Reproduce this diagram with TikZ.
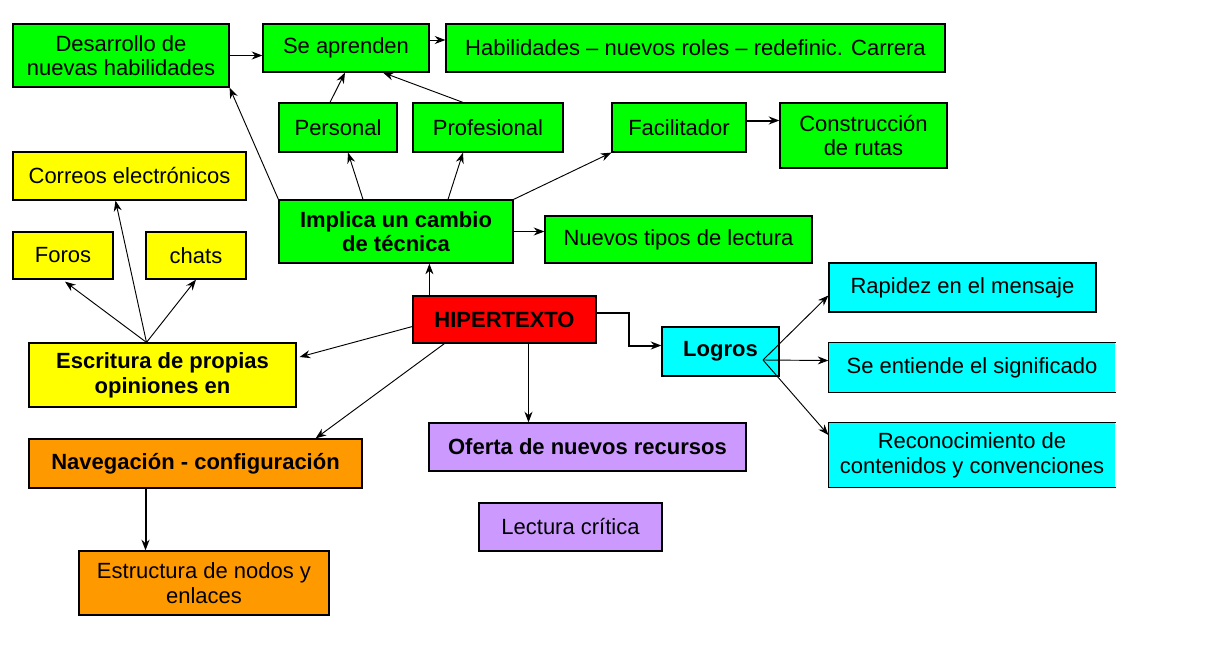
\documentclass[tikz,border=0pt]{standalone}
\usepackage{fontspec}
\setmainfont{Liberation Sans}
\usetikzlibrary{arrows.meta,calc}
\definecolor{verde}{HTML}{00FF00}
\definecolor{amarillo}{HTML}{FFFF00}
\definecolor{rojo}{HTML}{FF0000}
\definecolor{cian}{HTML}{00FFFF}
\definecolor{naranja}{HTML}{FF9900}
\definecolor{lila}{HTML}{CC99FF}
\begin{document}
\begin{tikzpicture}[x=0.75pt, y=-0.75pt, >={Stealth[length=8pt,width=6pt]},
  font=\fontsize{16.5}{18.5}\selectfont,
  caja/.style={draw, line width=0.9pt, inner sep=0pt, align=center},
  bf/.style={font=\fontsize{16.5}{18.5}\selectfont\bfseries},
  con/.style={->, line width=0.7pt},
  grueso/.style={->, line width=1.5pt}]
  \useasboundingbox (0,0) rectangle (1218,650);
  % Green boxes
  \node[caja, fill=verde, minimum width=216*0.75pt, minimum height=63*0.75pt] (desa) at (121,55.5) {Desarrollo de\\nuevas habilidades};
  \node[caja, fill=verde, minimum width=166*0.75pt, minimum height=48*0.75pt] (apre) at (346,48) {Se aprenden};
  \node[caja, fill=verde, minimum width=499*0.75pt, minimum height=48*0.75pt] (habi) at (695.5,48) {Habilidades -- nuevos roles -- redefinic. Carrera};
  \node[caja, fill=verde, minimum width=118*0.75pt, minimum height=49*0.75pt] (pers) at (338,127.5) {Personal};
  \node[caja, fill=verde, minimum width=150*0.75pt, minimum height=49*0.75pt] (prof) at (488,127.5) {Profesional};
  \node[caja, fill=verde, minimum width=134*0.75pt, minimum height=49*0.75pt] (faci) at (679,127.5) {Facilitador};
  \node[caja, fill=verde, minimum width=167*0.75pt, minimum height=65*0.75pt] (cons) at (863.5,135.5) {Construcción\\de rutas};
  \node[caja, bf, fill=verde, minimum width=234*0.75pt, minimum height=63*0.75pt] (impl) at (396,231.5) {Implica un cambio\\de técnica};
  \node[caja, fill=verde, minimum width=267*0.75pt, minimum height=47*0.75pt] (nuev) at (678.5,239.5) {Nuevos tipos de lectura};
  % Yellow boxes
  \node[caja, fill=amarillo, minimum width=233*0.75pt, minimum height=48*0.75pt] (corr) at (129.5,176) {Correos electrónicos};
  \node[caja, fill=amarillo, minimum width=100*0.75pt, minimum height=47*0.75pt] (foro) at (63,255.5) {Foros};
  \node[caja, fill=amarillo, minimum width=100*0.75pt, minimum height=47*0.75pt] (chat) at (196,255.5) {chats};
  \node[caja, bf, fill=amarillo, minimum width=267*0.75pt, minimum height=64*0.75pt] (escr) at (162.5,375) {Escritura de propias\\opiniones en};
  % Centre
  \node[caja, bf, fill=rojo, minimum width=183*0.75pt, minimum height=47*0.75pt] (hipe) at (504.5,319.5) {HIPERTEXTO};
  % Cyan boxes
  \node[caja, bf, fill=cian, minimum width=117*0.75pt, minimum height=49*0.75pt] (logr) at (720.5,351.5) {Logros};
  \node[caja, fill=cian, minimum width=267*0.75pt, minimum height=49*0.75pt] (rapi) at (962.5,287.5) {Rapidez en el mensaje};
  \node[caja, draw=none, fill=cian, minimum width=286*0.75pt, minimum height=49*0.75pt] (sent) at (972,367.5) {Se entiende el significado};
  \node[caja, draw=none, fill=cian, minimum width=286*0.75pt, minimum height=64*0.75pt] (reco) at (972,455) {Reconocimiento de\\contenidos y convenciones};
  \draw[line width=0.9pt] (sent.north east) -- (sent.north west) -- (sent.south west) -- (sent.south east);
  \draw[line width=0.9pt] (reco.north east) -- (reco.north west) -- (reco.south west) -- (reco.south east);
  % Orange and lilac boxes
  \node[caja, bf, fill=naranja, minimum width=333*0.75pt, minimum height=49*0.75pt] (nave) at (195.5,463.5) {Navegación - configuración};
  \node[caja, fill=naranja, minimum width=250*0.75pt, minimum height=64*0.75pt] (estr) at (204,583) {Estructura de nodos y\\enlaces};
  \node[caja, bf, fill=lila, minimum width=317*0.75pt, minimum height=48*0.75pt] (ofer) at (587.5,447) {Oferta de nuevos recursos};
  \node[caja, fill=lila, minimum width=183*0.75pt, minimum height=48*0.75pt] (lect) at (570.5,527) {Lectura crítica};
  % Helper points on the borders
  \coordinate (apre-e) at ($(apre.east)+(0,-8)$);
  \coordinate (faci-e) at ($(faci.east)+(0,-7)$);
  \coordinate (hipe-n) at ($(hipe.north west)+(17,0)$);
  \coordinate (hipe-e) at ($(hipe.east)+(0,-7)$);
  \coordinate (hipe-s) at ($(hipe.south)+(24,0)$);
  \coordinate (logr-w) at ($(logr.west)+(0,-6)$);
  \coordinate (escr-n) at ($(escr.north)+(-16,0)$);
  \coordinate (nave-s) at ($(nave.south)+(-50,0)$);
  % Top connectors
  \draw[con] (desa.east) -- (desa.east -| apre.west);
  \draw[con] (apre-e) -- (apre-e -| habi.west);
  \draw[con] ($(pers.north)+(-8,0)$) -- ($(apre.south)+(-1,0)$);
  \draw[con] ($(prof.north)+(-25,0)$) -- ($(apre.south)+(37,0)$);
  \draw[grueso] (faci-e) -- (faci-e -| cons.west);
  % From Implica
  \draw[con] (impl.north west) -- (desa.south east);
  \draw[con] ($(impl.north)+(-33,0)$) -- ($(pers.south)+(10,0)$);
  \draw[con] ($(impl.north)+(52,0)$) -- ($(prof.south)+(-25,0)$);
  \draw[con] (impl.north east) -- (faci.south west);
  \draw[con] (impl.east) -- (impl.east -| nuev.west);
  % From HIPERTEXTO
  \draw[con] (hipe-n) -- (hipe-n |- impl.south);
  \draw[grueso] (hipe-e) -| ($(logr-w)+(-32,0)$) -- (logr-w);
  \draw[con] (hipe-s) -- (hipe-s |- ofer.north);
  \draw[con] ($(hipe.west)+(0,7)$) -- ($(escr.east)+(3,-18)$);
  \draw[con] ($(hipe.south west)+(32,0)$) -- ($(nave.north east)+(-47,0)$);
  % From Escritura
  \draw[con] (escr-n) -- ($(foro.south)+(2,2)$);
  \draw[con] (escr-n) -- ($(corr.south)+(-14,0)$);
  \draw[con] (escr-n) -- (chat.south);
  \draw[grueso] (nave-s) -- (nave-s |- estr.north);
  % From Logros
  \coordinate (lfork) at (763,360);
  \draw[con] (lfork) -- ($(rapi.west)+(0,8)$);
  \draw[con] (lfork) -- ($(sent.west)+(0,-7)$);
  \draw[con] (lfork) -- ($(reco.west)+(0,-20)$);
\end{tikzpicture}
\end{document}
